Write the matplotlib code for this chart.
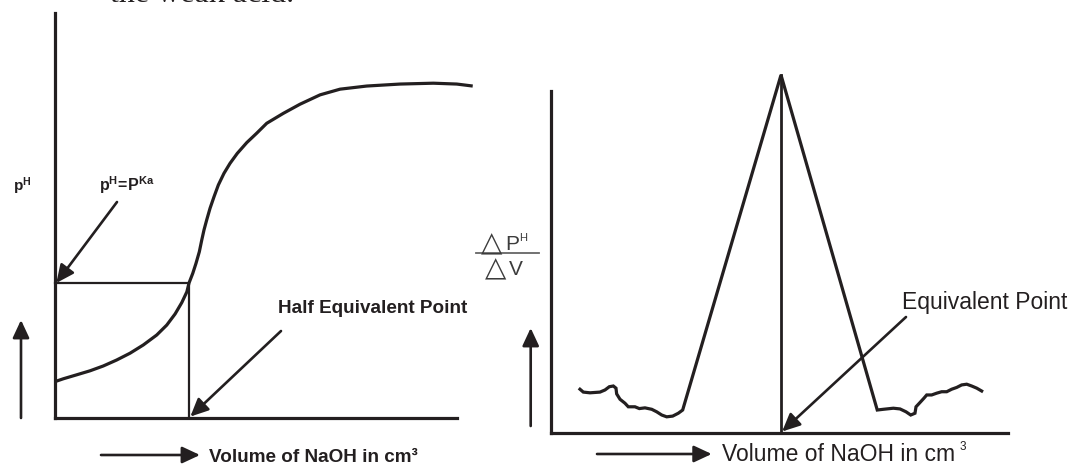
import numpy as np
import matplotlib.pyplot as plt

plt.rcParams['font.family'] = ['Liberation Sans', 'DejaVu Sans']
plt.rcParams['mathtext.fontset'] = 'custom'
plt.rcParams['mathtext.rm'] = 'Liberation Sans'
plt.rcParams['mathtext.bf'] = 'Liberation Sans:bold'
plt.rcParams['mathtext.it'] = 'Liberation Sans:italic'

# left: pH vs volume of NaOH (weak acid titration)
vol_ph = [0, 0.62, 1.62, 2.61, 3.60, 4.60, 5.60, 6.59, 7.59, 8.34, 8.96, 9.46,
          9.84, 10.0, 10.28, 10.52, 10.77, 10.95, 11.12, 11.32, 11.57, 11.87,
          12.19, 12.61, 13.06, 13.60, 14.31, 15.05, 15.80, 17.04, 18.28, 19.78,
          21.27, 23.26, 25.75, 28.23, 29.98, 31.17]
ph = [1.28, 1.38, 1.52, 1.66, 1.83, 2.04, 2.28, 2.57, 2.92, 3.27, 3.66, 4.06,
      4.44, 4.75, 5.09, 5.44, 5.85, 6.26, 6.62, 6.97, 7.38, 7.79,
      8.20, 8.61, 8.96, 9.31, 9.69, 10.02, 10.37, 10.72, 11.04, 11.37,
      11.57, 11.68, 11.75, 11.78, 11.75, 11.68]
half_eq_vol = 10.0
pka = 4.75

# right: dpH/dV vs volume of NaOH
vol_d = [2.52, 2.81, 3.39, 4.26, 4.70, 5.07, 5.42, 5.65, 5.71, 6.00, 6.43, 6.72,
         7.30, 7.68, 8.17, 8.76, 9.19, 9.63, 10.06, 10.58, 11.07, 11.45,
         20.0,
         28.37, 28.90, 29.77, 30.35, 30.87, 31.28, 31.65, 31.74, 32.03, 32.43,
         32.67, 33.10, 33.54, 33.97, 34.41, 34.84, 35.28, 35.71, 36.15, 36.58,
         37.02, 37.45]
dph_dv = [1.23, 1.15, 1.13, 1.15, 1.21, 1.30, 1.32, 1.26, 1.10, 0.95, 0.84, 0.74,
          0.74, 0.69, 0.71, 0.67, 0.60, 0.51, 0.46, 0.48, 0.56, 0.65,
          10.0,
          0.65, 0.67, 0.70, 0.68, 0.60, 0.51, 0.56, 0.74, 0.84, 0.98,
          1.07, 1.07, 1.12, 1.16, 1.16, 1.23, 1.28, 1.35, 1.37, 1.32,
          1.26, 1.18]
eq_vol = 20.0
peak = 10.0

W, H = 1076, 466
ink = '#231f20'

def box(x0, y0, x1, y1):
    # pixel box (top-left origin) -> figure fraction rect
    return [x0 / W, 1 - y1 / H, (x1 - x0) / W, (y1 - y0) / H]

def fp(x, y):
    # image pixel -> figure pixels
    return (x, H - y)

def ftext(x, y, s, **kw):
    # text placed by image pixel (baseline at y)
    kw.setdefault('color', ink)
    return fig.text(x / W, 1 - y / H, s, va='baseline', ha='left', **kw)

fig = plt.figure(figsize=(W / 100, H / 100), dpi=100)
fig.patch.set_facecolor('white')

arrow = dict(arrowstyle='-|>,head_length=0.6,head_width=0.28', mutation_scale=18,
             lw=1.9, color=ink, shrinkA=0, shrinkB=0)

def setup(ax, xmax, ymax, xspine, yspine):
    ax.set_xlim(0, xmax)
    ax.set_ylim(0, ymax)
    ax.set_xticks([])
    ax.set_yticks([])
    ax.patch.set_alpha(0)
    for s in ['top', 'right']:
        ax.spines[s].set_visible(False)
    for s in ['left', 'bottom']:
        ax.spines[s].set_linewidth(2.3)
        ax.spines[s].set_color(ink)
        ax.spines[s].set_capstyle('projecting')
    ax.spines['bottom'].set_bounds(0, xspine)
    ax.spines['left'].set_bounds(0, yspine)

# ---------------- left panel ----------------
ax1 = fig.add_axes(box(55, 13, 475.8, 418))
setup(ax1, 31.4, 14.25, 30.0, 14.25)
ax1.plot(vol_ph, ph, color=ink, lw=2.3, clip_on=False, solid_capstyle='butt',
         solid_joinstyle='round')
ax1.plot([0, half_eq_vol, half_eq_vol], [pka, pka, 0], color=ink, lw=1.6,
         clip_on=False)

ax1.annotate('', xy=(0.1, pka), xycoords='data', xytext=fp(117, 202),
             textcoords='figure pixels', arrowprops=arrow)
ax1.annotate('', xy=(half_eq_vol + 0.1, 0.05), xycoords='data', xytext=fp(281, 331),
             textcoords='figure pixels', arrowprops=arrow)

ftext(13, 191, r'$\mathbf{p^{H}}$', fontsize=11)
ftext(99, 191, r'$\mathbf{p^{H}\!=\!P^{Ka}}$', fontsize=11.5)
ftext(278, 313, 'Half Equivalent Point', fontsize=13.6, fontweight='bold')
ftext(209, 462, 'Volume of NaOH in cm\u00b3', fontsize=13.6, fontweight='bold')

ax1.annotate('', xy=fp(21, 320), xycoords='figure pixels', xytext=fp(21, 418),
             textcoords='figure pixels', arrowprops=arrow)
ax1.annotate('', xy=fp(200, 455), xycoords='figure pixels', xytext=fp(101, 455),
             textcoords='figure pixels', arrowprops=arrow)

# caption of the page above, cut off at the top edge as in the source
ftext(110, 1.8, 'the weak acid.', fontsize=23, family='Liberation Serif')

# ---------------- right panel ----------------
ax2 = fig.add_axes(box(551, 71.4, 1008.7, 433.3))
setup(ax2, 39.8, 10.1, 39.74, 9.56)
ax2.plot(vol_d, dph_dv, color=ink, lw=2.3, clip_on=False, solid_joinstyle='miter')
ax2.plot([eq_vol, eq_vol], [0, peak], color=ink, lw=2.0, clip_on=False)

ax2.annotate('', xy=(eq_vol + 0.1, 0.05), xycoords='data', xytext=fp(906, 317),
             textcoords='figure pixels', arrowprops=arrow)

ftext(901.7, 309, 'Equivalent Point', fontsize=16.5)
ftext(721.7, 461, 'Volume of NaOH in cm', fontsize=16.5)
ftext(960, 450, '3', fontsize=8.5)

ax2.annotate('', xy=fp(530.7, 328), xycoords='figure pixels', xytext=fp(530.7, 426),
             textcoords='figure pixels', arrowprops=arrow)
ax2.annotate('', xy=fp(711.7, 454), xycoords='figure pixels', xytext=fp(597, 454),
             textcoords='figure pixels', arrowprops=arrow)

# dpH / dV label
grey = '#3c3c3c'
ftext(481, 251, '\u25b3', fontsize=20, color=grey, family=['DejaVu Sans'])
ftext(505, 250, 'P', fontsize=15, color=grey)
ftext(519, 241, 'H', fontsize=8, color=grey)
ftext(485, 276, '\u25b3', fontsize=20, color=grey, family=['DejaVu Sans'])
ftext(509, 275, 'V', fontsize=15, color=grey)
fig.add_artist(plt.Line2D([476 / W, 539 / W], [1 - 252.7 / H, 1 - 252.7 / H],
                          color='#666666', lw=1.3))

fig.savefig('out.png', dpi=100, facecolor='white')
